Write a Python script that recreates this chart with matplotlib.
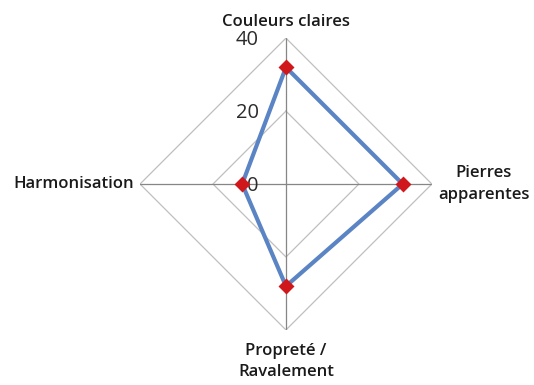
import numpy as np
import matplotlib.pyplot as plt
from matplotlib.transforms import offset_copy

# categories clockwise from the top
categories = ["Couleurs claires", "Pierres\napparentes", "Propreté /\nRavalement", "Harmonisation"]
values = [32, 32, 28, 12]
rticks = [0, 20, 40]

fig = plt.figure(figsize=(5.34, 3.85), dpi=100)
ax = fig.add_axes([0.262, 0.143, 0.547, 0.758], projection='polar')
ax.set_theta_zero_location('N')
ax.set_theta_direction(-1)
ax.set_ylim(0, 40)
ax.grid(False)
ax.set_xticks([])
ax.set_yticks([])
ax.spines['polar'].set_visible(False)
ax.patch.set_alpha(0)

theta = np.linspace(0, 2 * np.pi, len(categories), endpoint=False)
closed = np.append(theta, theta[0])

# diamond grid and spokes
for r in rticks[1:]:
    ax.plot(closed, [r] * len(closed), color='#bfbfbf', lw=0.9, zorder=1)
for t in theta:
    ax.plot([t, t], [0, rticks[-1]], color='#868686', lw=0.9, zorder=1)

# value labels along the top spoke
tr = offset_copy(ax.transData, fig=fig, x=-27, y=-2, units='dots')
for r in rticks:
    ax.text(0, r, str(r), transform=tr, ha='right', va='center',
            fontsize=14.5, color='#2b2b2b', family='Open Sans')

# category labels
lab_font = dict(fontsize=12, fontweight='semibold', family='Open Sans', color='#1a1a1a')
ax.text(0, 40, categories[0], ha='center', va='bottom',
        transform=offset_copy(ax.transData, fig=fig, x=0, y=8, units='dots'), **lab_font)
ax.text(theta[1], 40, categories[1], ha='center', va='center', linespacing=1.45,
        transform=offset_copy(ax.transData, fig=fig, x=52, y=0, units='dots'), **lab_font)
ax.text(theta[2], 40, categories[2], ha='center', va='top', linespacing=1.45,
        transform=offset_copy(ax.transData, fig=fig, x=0, y=-13, units='dots'), **lab_font)
ax.text(theta[3], 40, categories[3], ha='right', va='center',
        transform=offset_copy(ax.transData, fig=fig, x=-6, y=0, units='dots'), **lab_font)

v = np.append(values, values[0])
ax.plot(closed, v, color='#5b84c4', lw=3, zorder=3)
ax.plot(theta, values, ls='none', marker='D', ms=8.5, color='#d0181c', mec='none', zorder=4)

fig.savefig('out.png', dpi=100, facecolor='white')
